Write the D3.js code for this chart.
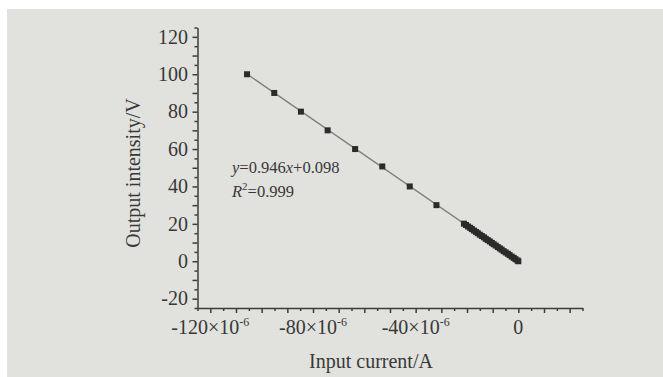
<!DOCTYPE html>
<html>
<head>
<meta charset="utf-8">
<script src="https://cdn.jsdelivr.net/npm/d3@7/dist/d3.min.js"></script>
<style>
  body { margin: 0; background: #fff; }
  svg { display: block; }
  text { font-family: "Liberation Serif", "Times New Roman", serif; fill: #383838; }
</style>
</head>
<body>
<svg id="chart" width="663" height="377"></svg>
<script>
// input current, in units of 1e-6 A
var currentUA = [-105.7, -95.1, -84.7, -74.3, -63.6, -53.0, -42.3, -31.9,
  -21.2, -20.4, -19.6, -18.8, -18.1, -17.3, -16.5, -15.8, -15.0, -14.2,
  -13.4, -12.7, -11.9, -11.1, -10.3, -9.6, -8.8, -8.0, -7.2, -6.5,
  -5.7, -4.9, -4.1, -3.4, -2.6, -1.8, -1.1, -0.3, 0.0];
// output intensity, V
var outputV = [100, 90, 80, 70, 60, 50.7, 40, 30,
  20.1, 19.4, 18.6, 17.9, 17.2, 16.4, 15.7, 15.0, 14.2,
  13.5, 12.8, 12.0, 11.3, 10.6, 9.8, 9.1, 8.4, 7.6, 6.9, 6.2,
  5.4, 4.7, 4.0, 3.3, 2.5, 1.8, 1.1, 0.4, 0.0];

var xTickLabels = [-120, -80, -40, 0];
var yTickLabels = [-20, 0, 20, 40, 60, 80, 100, 120];

// fitted line y = 0.946x + 0.098 (x as magnitude of current in uA)
var fitSlope = -0.946, fitIntercept = 0.098;

var svg = d3.select('#chart');

// paper background
svg.append('rect')
   .attr('x', 7).attr('y', 9)
   .attr('width', 656).attr('height', 368)
   .attr('fill', '#e1e2dd');

var x = d3.scaleLinear().domain([-125, 25]).range([197.5, 582.5]);
var y = d3.scaleLinear().domain([-25, 125]).range([308, 27.5]);

var axisColor = '#3c3c3c';

// x axis
var gx = svg.append('g')
   .attr('transform', 'translate(0,' + y(-25) + ')')
   .call(d3.axisBottom(x).tickValues(d3.range(-125, 26, 5)).tickFormat('').tickSizeOuter(0));
gx.selectAll('line').attr('y2', function(d){ return d % 10 === 0 ? 5 : 3; });

// y axis
var gy = svg.append('g')
   .attr('transform', 'translate(' + x(-125) + ',0)')
   .call(d3.axisLeft(y).tickValues(d3.range(-25, 126, 5)).tickFormat('').tickSizeOuter(0));
gy.selectAll('line').attr('x2', function(d){ return d % 10 === 0 ? -5 : -3; });

svg.selectAll('.domain, .tick line')
   .attr('stroke', axisColor)
   .attr('stroke-width', 1.5);

// x tick labels with 10^-6 superscript
xTickLabels.forEach(function(v){
  var t = svg.append('text')
     .attr('x', x(v))
     .attr('y', 334)
     .attr('text-anchor', 'middle')
     .attr('font-size', 20);
  if (v === 0) {
    t.text('0');
  } else {
    t.append('tspan').text(v + '\u00d710');
    t.append('tspan').attr('font-size', 12).attr('dy', -8).text('-6');
  }
});

// y tick labels
svg.selectAll('.ylab')
   .data(yTickLabels)
   .enter()
   .append('text')
   .attr('class', 'ylab')
   .attr('x', 188)
   .attr('y', function(d){ return y(d); })
   .attr('dy', '0.34em')
   .attr('text-anchor', 'end')
   .attr('font-size', 20)
   .text(function(d){ return d; });

// axis titles
svg.append('text')
   .attr('x', 371).attr('y', 368)
   .attr('text-anchor', 'middle')
   .attr('font-size', 20)
   .text('Input current/A');

svg.append('text')
   .attr('transform', 'translate(139.5,' + 173 + ') rotate(-90)')
   .attr('text-anchor', 'middle')
   .attr('font-size', 20)
   .text('Output intensity/V');

// fit line
var xMin = d3.min(currentUA), xMax = d3.max(currentUA);
svg.append('line')
   .attr('x1', x(xMin)).attr('y1', y(fitSlope * xMin + fitIntercept))
   .attr('x2', x(xMax)).attr('y2', y(fitSlope * xMax + fitIntercept))
   .attr('stroke', '#7d7d7d')
   .attr('stroke-width', 1.3);

// data points
svg.append('g')
   .selectAll('rect')
   .data(currentUA)
   .enter()
   .append('rect')
   .attr('x', function(d){ return x(d) - 3; })
   .attr('y', function(d, i){ return y(outputV[i]) - 3; })
   .attr('width', 6)
   .attr('height', 6)
   .attr('fill', '#2b2b2b');

// regression annotation
var eq = svg.append('text')
   .attr('x', 232).attr('y', 173)
   .attr('font-size', 16.5);
eq.append('tspan').attr('font-style', 'italic').text('y');
eq.append('tspan').text('=0.946');
eq.append('tspan').attr('font-style', 'italic').text('x');
eq.append('tspan').text('+0.098');

var r2 = svg.append('text')
   .attr('x', 232).attr('y', 197)
   .attr('font-size', 16.5);
r2.append('tspan').attr('font-style', 'italic').text('R');
r2.append('tspan').attr('font-size', 11).attr('dy', -7).text('2');
r2.append('tspan').attr('dy', 7).text('=0.999');
</script>
</body>
</html>
